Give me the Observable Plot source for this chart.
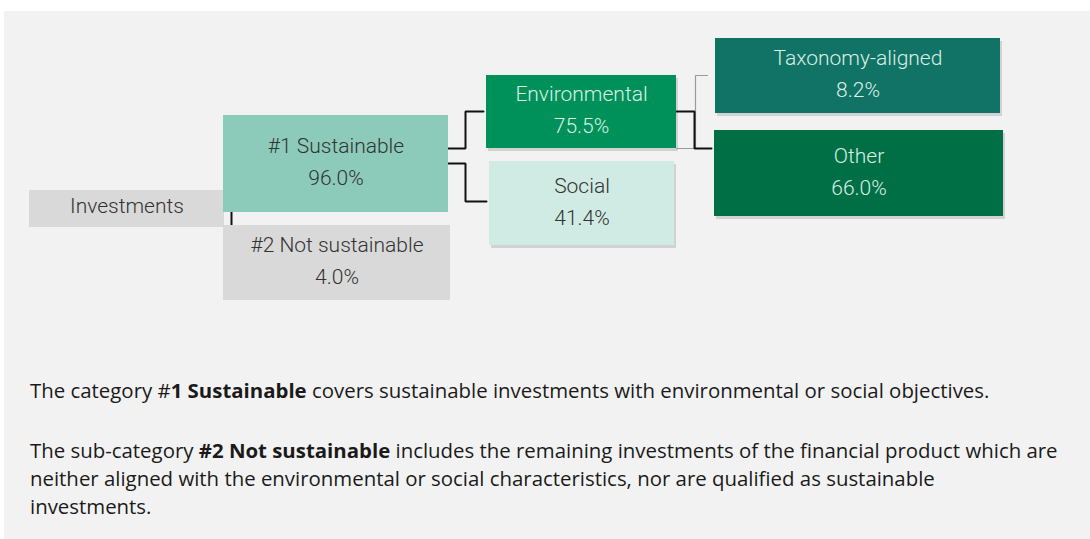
<!DOCTYPE html>
<html>
<head>
<meta charset="utf-8">
<script src="https://cdn.jsdelivr.net/npm/d3@7"></script>
<script src="https://cdn.jsdelivr.net/npm/@observablehq/plot@0.6"></script>
<style>
  html, body { margin: 0; padding: 0; background: #ffffff; width: 1090px; height: 539px; overflow: hidden; }
  #panel { position: absolute; left: 4px; top: 11px; width: 1086px; height: 528px; background: #f2f2f2; }
  #chart { position: absolute; left: 0; top: 0; }
  #notes { position: absolute; left: 30px; top: 376px; font-family: "Open Sans", sans-serif; font-size: 20.4px; color: #1a1a1a; white-space: nowrap; }
  #notes p { margin: 0; line-height: 28px; }
  #notes p + p { margin-top: 32px; }
</style>
</head>
<body>
<div id="panel"></div>
<div id="chart"></div>
<div id="notes"></div>
<script>
// ---- data ----
const nodes   = ["Investments", "#1 Sustainable", "#2 Not sustainable", "Environmental", "Social", "Taxonomy-aligned", "Other"];
const shares  = [null, 96.0, 4.0, 75.5, 41.4, 8.2, 66.0];
const parents = [null, "Investments", "Investments", "#1 Sustainable", "#1 Sustainable", "Environmental", "Environmental"];
const noteLines = [
  ["The category #", "1 Sustainable", " covers sustainable investments with environmental or social objectives."],
  ["The sub-category ", "#2 Not sustainable", " includes the remaining investments of the financial product which are"],
  ["neither aligned with the environmental or social characteristics, nor are qualified as sustainable"],
  ["investments."]
];

// ---- layout (diagram geometry, kept apart from data) ----
const layout = {
  "Investments":        {x1: 29,  y1: 190, x2: 224,  y2: 227, fill: "#d9d9d9", ink: "#333333", shadow: false},
  "#1 Sustainable":     {x1: 223, y1: 115, x2: 448,  y2: 212, fill: "#8ccbb9", ink: "#333333", shadow: false},
  "#2 Not sustainable": {x1: 223, y1: 225, x2: 450,  y2: 300, fill: "#d9d9d9", ink: "#333333", shadow: false},
  "Environmental":      {x1: 486, y1: 75,  x2: 676,  y2: 148, fill: "#00915a", ink: "#d9efe4", shadow: true},
  "Social":             {x1: 489, y1: 161, x2: 674,  y2: 245, fill: "#d0ebe3", ink: "#333333", shadow: true},
  "Taxonomy-aligned":   {x1: 715, y1: 38,  x2: 1000, y2: 113, fill: "#117266", ink: "#d9efe4", shadow: true},
  "Other":              {x1: 714, y1: 130, x2: 1003, y2: 216, fill: "#006f45", ink: "#d9efe4", shadow: true}
};
// connector anchors: parent exit y, elbow x, child entry y
const linkStyle = {
  "#1 Sustainable":     {py: 212, mx: 231, cy: 225, color: "#000", vertical: true},
  "Environmental":      {py: 148, mx: 465, cy: 111, color: "#000"},
  "Social":             {py: 163, mx: 465, cy: 201, color: "#000"},
  "Taxonomy-aligned":   {py: 148, mx: 695, cy: 75,  color: "#9a9a9a"},
  "Other":              {py: 111, mx: 694, cy: 148, color: "#000"}
};

const table = nodes.map((n, i) => ({name: n, share: shares[i], parent: parents[i], ...layout[n]}));
table.forEach(d => { d.cx = (d.x1 + d.x2) / 2; d.cy = (d.y1 + d.y2) / 2; });

const linkPts = [];
table.forEach(d => {
  const s = linkStyle[d.name];
  if (!s) return;
  const p = layout[d.parent];
  if (s.vertical) {
    linkPts.push({id: d.name, x: s.mx, y: s.py, color: s.color});
    linkPts.push({id: d.name, x: s.mx, y: s.cy, color: s.color});
  } else {
    const ex = d.x1 - (d.name === "Taxonomy-aligned" ? 8 : 3);
    [[p.x2, s.py], [s.mx, s.py], [s.mx, s.cy], [ex, s.cy]].forEach(([x, y]) =>
      linkPts.push({id: d.name, x, y, color: s.color}));
  }
});
const grayLinks = linkPts.filter(d => d.color !== "#000");
const blackLinks = linkPts.filter(d => d.color === "#000");

const fmt = v => v.toFixed(1) + "%";
const font = "Roboto, sans-serif";
const fs = 21;

const chart = Plot.plot({
  width: 1090,
  height: 360,
  margin: 0,
  x: {type: "identity", axis: null},
  y: {type: "identity", axis: null},
  style: {background: "transparent", overflow: "visible"},
  marks: [
    Plot.rect(table.filter(d => d.shadow), {x1: "x1", x2: "x2", y1: "y1", y2: "y2", fill: "#000", fillOpacity: 0.13, dx: 2, dy: 3}),
    Plot.line(grayLinks, {x: "x", y: "y", z: "id", stroke: "#9a9a9a", strokeWidth: 1.2, strokeLinejoin: "miter", curve: "linear"}),
    Plot.line(blackLinks, {x: "x", y: "y", z: "id", stroke: "#111", strokeWidth: 2, strokeLinejoin: "miter", curve: "linear"}),
    Plot.rect(table, {x1: "x1", x2: "x2", y1: "y1", y2: "y2", fill: "fill"}),
    Plot.text(table.filter(d => d.share == null), {x: "cx", y: d => d.cy - 2.5, text: "name", fill: "ink", fontFamily: font, fontWeight: 300, fontSize: fs}),
    Plot.text(table.filter(d => d.share != null), {x: "cx", y: d => d.cy - 17.5, text: "name", fill: "ink", fontFamily: font, fontWeight: 300, fontSize: fs}),
    Plot.text(table.filter(d => d.share != null), {x: "cx", y: d => d.cy + 14.5, text: d => fmt(d.share), fill: "ink", fontFamily: font, fontWeight: 300, fontSize: fs})
  ]
});
document.getElementById("chart").appendChild(chart);

const notes = document.getElementById("notes");
const p1 = document.createElement("p");
const p2 = document.createElement("p");
function fill(p, parts) {
  parts.forEach((t, i) => {
    const el = document.createElement(i === 1 ? "b" : "span");
    el.textContent = t;
    p.appendChild(el);
  });
}
fill(p1, noteLines[0]);
fill(p2, noteLines[1]);
p2.appendChild(document.createElement("br"));
p2.appendChild(document.createTextNode(noteLines[2][0]));
p2.appendChild(document.createElement("br"));
p2.appendChild(document.createTextNode(noteLines[3][0]));
notes.appendChild(p1);
notes.appendChild(p2);
</script>
</body>
</html>
